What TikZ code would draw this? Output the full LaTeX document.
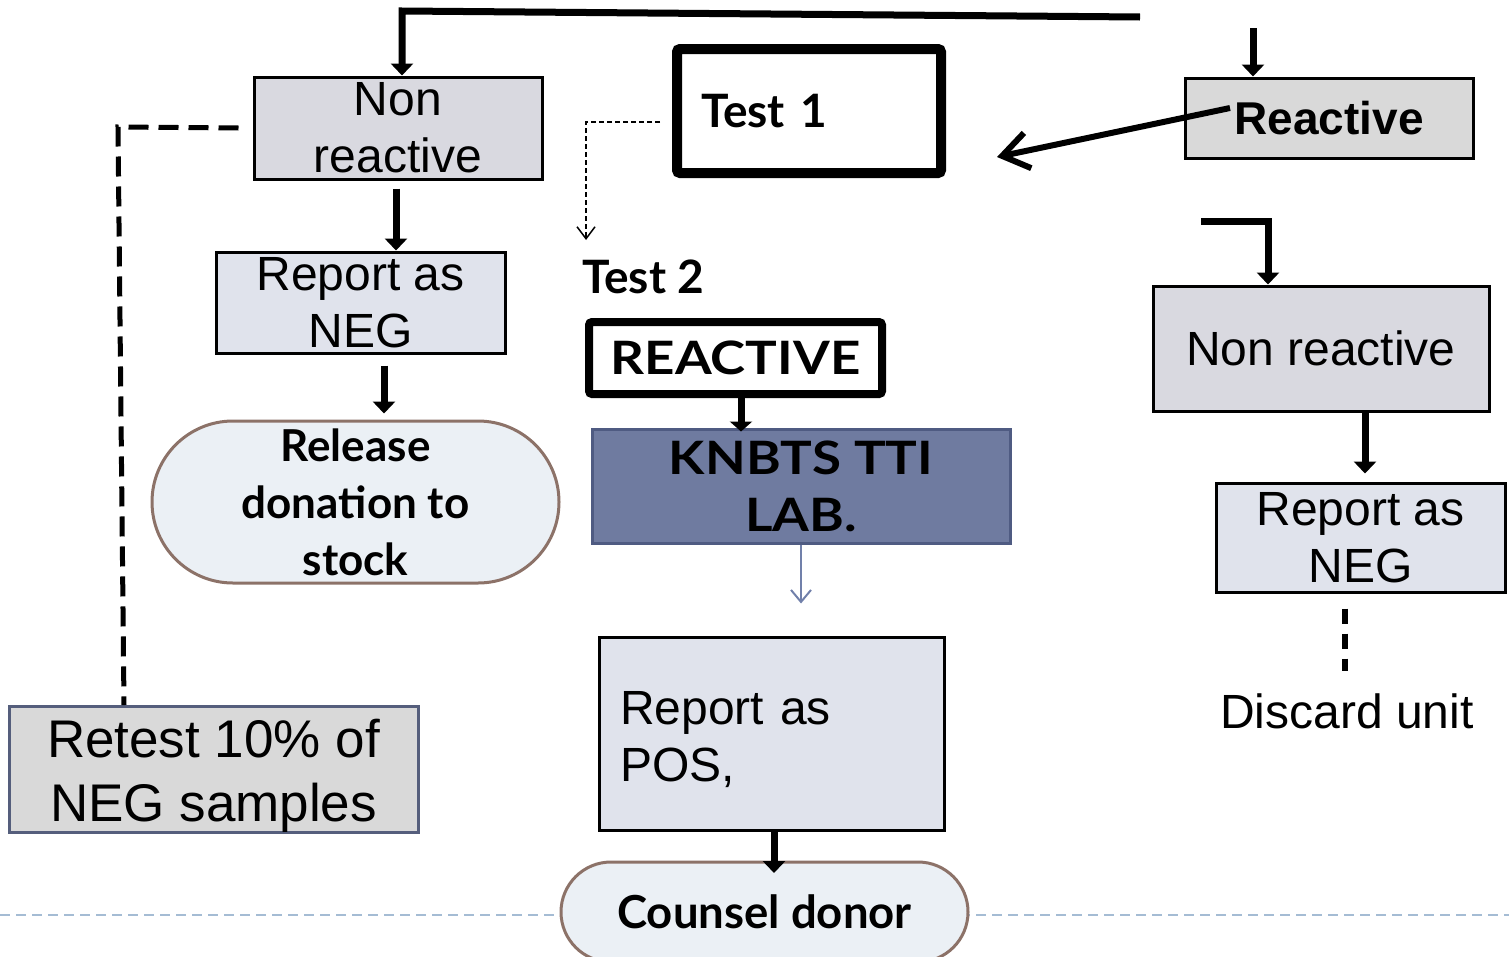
\documentclass[tikz,border=0pt]{standalone}
\usepackage{fontspec}
\usepackage{graphicx}
\setmainfont{Liberation Sans}
\newfontfamily\gill{Lato}
\usetikzlibrary{arrows.meta,shapes.misc}
\newcommand\widecaps[1]{\scalebox{1.15}[1]{#1}}
\definecolor{grayA}{HTML}{D9D9E0}
\definecolor{grayB}{HTML}{D9D9D9}
\definecolor{paleA}{HTML}{E0E3EC}
\definecolor{paleB}{HTML}{EBF0F5}
\definecolor{brownB}{HTML}{8C7268}
\definecolor{slate}{HTML}{6F7BA0}
\definecolor{slateD}{HTML}{4F5B82}
\definecolor{slateL}{HTML}{7180AA}
\definecolor{retB}{HTML}{555E7C}
\definecolor{sepblue}{HTML}{A5BCD4}
\tikzset{
  box/.style={draw=black, line width=3pt, inner sep=0pt, align=center,
    font=\fontsize{48}{57}\selectfont},
  heavybox/.style={draw=black, inner sep=0pt, fill=white, rounded corners=3pt},
  pill/.style={rounded rectangle, draw=brownB, line width=3pt, fill=paleB, inner sep=0pt,
    align=center, font=\gill\bfseries\fontsize{44}{57}\selectfont},
  gilltext/.style={font=\gill\bfseries\fontsize{46}{57}\selectfont},
  arr/.style={line width=7pt, -{Triangle[width=22pt,length=12pt]}},
  bigdash/.style={line width=5pt, dash pattern=on 20pt off 10pt},
}
\begin{document}
\begin{tikzpicture}[x=1pt,y=-1pt]
\useasboundingbox (0,0) rectangle (1509,956);
\clip (0,0) rectangle (1509,956);
% separator line
\draw[sepblue, line width=2pt, dash pattern=on 10pt off 6pt] (0,915) -- (1509,915);

% nodes
\node[box, fill=grayA, minimum width=288pt, minimum height=102pt] (nrL) at (398,128) {Non\\reactive};
\node[box, fill=paleA, minimum width=289pt, minimum height=101pt] (negL) at (360.5,302.5) {Report as\\NEG};
\node[pill, minimum width=407pt, minimum height=162pt] (rel) at (355.5,502) {Release\\donation to\\stock};
\node[box, draw=retB, fill=grayB, minimum width=409pt, minimum height=123pt,
  font=\fontsize{53}{64}\selectfont] (retest) at (213.5,769.5) {\rule{0pt}{51pt}Retest 10\% of\\NEG samples};

\node[heavybox, line width=10pt, text width=216pt, inner xsep=24pt, minimum height=124pt,
  align=left, gilltext] (t1) at (809,111) {Test 1};
\node[gilltext, anchor=base west, inner sep=0pt] (t2) at (582,293) {Test 2};
\node[heavybox, line width=8pt, minimum width=293pt, minimum height=72pt, gilltext] (reac2) at (735.5,358) {\widecaps{REACTIVE}};
\node[draw=slateD, line width=3pt, fill=slate, minimum width=418pt, minimum height=114pt,
  inner sep=0pt, align=center, gilltext] (knbts) at (801,486) {\widecaps{KNBTS TTI}\\\widecaps{LAB.}};
\node[box, fill=paleA, text width=303pt, inner xsep=21pt, minimum height=193pt, align=left] (pos) at (771.5,733.5) {\rule{0pt}{45pt}Report as\\POS,};
\node[pill, minimum width=407pt, minimum height=100pt, font=\gill\bfseries\fontsize{45.5}{57}\selectfont] (counsel) at (764.5,912) {Counsel donor};

\node[box, fill=grayB, minimum width=288pt, minimum height=80pt, font=\bfseries\fontsize{46}{57}\selectfont] (reactR) at (1329,118) {Reactive};
\node[box, fill=grayA, minimum width=336pt, minimum height=125pt] (nrR) at (1321,348.5) {Non reactive};
\node[box, fill=paleA, minimum width=289pt, minimum height=109pt] (negR) at (1360.5,537.5) {Report as\\NEG};
\node[font=\fontsize{48}{57}\selectfont, inner sep=0pt, anchor=base] (disc) at (1347,728) {Discard unit};

% connectors
\coordinate (topR) at (1140,17);
\coordinate (topL) at (402,11);
\draw[arr] (topR) -- (topL) -- (topL |- nrL.north);
\coordinate (rtop) at (1253,28);
\draw[arr] (rtop) -- (rtop |- reactR.north);
\draw[arr, shorten <=8pt] ([xshift=-2pt]nrL.south) -- ([xshift=-2pt]nrL.south |- negL.north);
\draw[arr, shorten <=11pt, shorten >=6pt] (negL.south -| 384,0) -- (rel.north -| 384,0);
\coordinate (dl) at (118,127);
\draw[bigdash] ([xshift=-14pt]nrL.west) -- (dl) -- (retest.north -| 124,0);

\coordinate (tc) at (586,122);
\coordinate (tt) at (586,240);
\draw[line width=1.5pt, dash pattern=on 5pt off 3pt, -{Straight Barb[length=12pt,width=18pt,line width=1.5pt]}]
  (t1.west |- tc) ++(-12,0) -- (tc) -- (tt);

\draw[line width=7pt, -{Triangle[width=22pt,length=10pt]}] (reac2.south -| 741,0) -- ([yshift=-4pt]knbts.north -| 741,0);
\draw[slateL, line width=2pt, shorten >=32pt, -{Straight Barb[length=12pt,width=20pt,line width=2pt]}] (knbts.south -| 801,0) -- (pos.north -| 801,0);
\draw[arr] (pos.south -| 774,0) -- (774,873);

\coordinate (rs) at (1230,108);
\coordinate (rt) at (997,157);
\draw[line width=6pt, -{Straight Barb[length=26pt,width=36pt,line width=6pt]}] (rs) -- (rt);

\coordinate (br) at (1201,221);
\draw[arr] (br) -- (1268,221) -- (1268,0 |- nrR.north);
\draw[arr, shorten >=8pt] (nrR.south -| 1365,0) -- (negR.north -| 1365,0);
\draw[line width=6pt, dash pattern=on 15pt off 10pt, shorten <=15pt, shorten >=22pt] (negR.south -| 1345,0) -- (disc.north -| 1345,0);
\end{tikzpicture}
\end{document}
